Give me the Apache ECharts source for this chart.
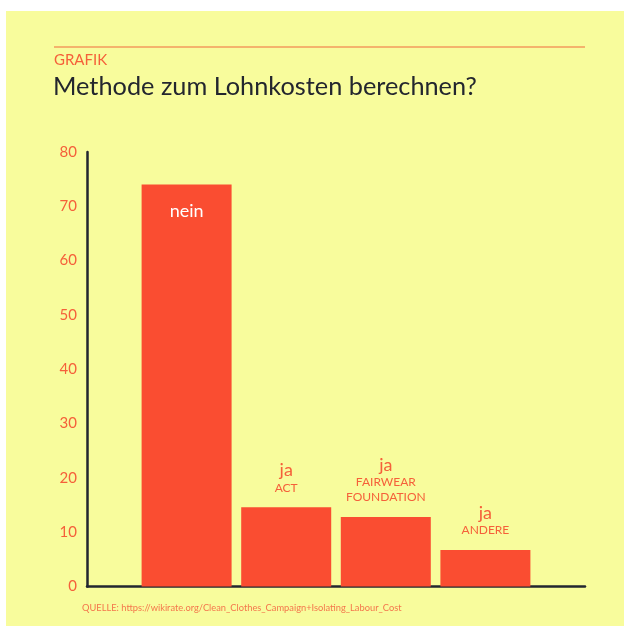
<!DOCTYPE html>
<html>
<head>
    <meta charset="utf-8" />
    <title>Methode zum Lohnkosten berechnen?</title>
    <script src="https://cdn.jsdelivr.net/npm/echarts@6/dist/echarts.min.js"></script>
    <style>
        body, html {
            margin: 0;
            padding: 0;
            background: #fff;
        }
        #paper {
            position: absolute;
            left: 6px;
            top: 11px;
            width: 618px;
            height: 615px;
            background: #f8fc9c;
        }
        #chart {
            position: absolute;
            left: 0;
            top: 0;
            width: 624px;
            height: 626px;
        }
    </style>
</head>
<body>
<div id="paper"></div>
<div id="chart"></div>

<script type="text/javascript">
    // Daten
    var positions = [1, 2, 3, 4];
    var values = [74, 14.6, 12.8, 6.7];
    var answers = ['nein', 'ja', 'ja', 'ja'];
    var methods = ['', 'ACT', 'FAIRWEAR\nFOUNDATION', 'ANDERE'];
    var yTicks = [0, 10, 20, 30, 40, 50, 60, 70, 80];

    var red = '#fa4d31';
    var orange = '#f5603a';
    var font = 'Lato, "Open Sans", sans-serif';

    var chart = echarts.init(document.getElementById('chart'));

    var seriesData = positions.map(function (p, i) {
        var item = { value: [p, values[i]] };
        if (i === 0) {
            item.label = {
                show: true,
                position: 'insideTop',
                distance: 18,
                color: '#fff',
                fontSize: 18,
                fontFamily: font,
                formatter: answers[i]
            };
        } else {
            item.label = {
                show: true,
                position: 'top',
                distance: 12,
                align: 'center',
                formatter: '{a|' + answers[i] + '}\n' +
                    methods[i].split('\n').map(function (s) { return '{b|' + s + '}'; }).join('\n'),
                rich: {
                    a: { fontSize: 18, color: orange, fontFamily: font, lineHeight: 20 },
                    b: { fontSize: 12, color: orange, fontFamily: font, lineHeight: 15 }
                }
            };
        }
        return item;
    });

    var option = {
        animation: false,
        textStyle: { fontFamily: font },
        graphic: [
            {
                type: 'line',
                shape: { x1: 54, y1: 47, x2: 585, y2: 47 },
                style: { stroke: '#f06a3c', lineWidth: 1.2 }
            },
            {
                type: 'text',
                left: 54,
                top: 53,
                style: { text: 'GRAFIK', fill: orange, font: '15px ' + font }
            },
            {
                type: 'text',
                left: 53,
                top: 74,
                style: { text: 'Methode zum Lohnkosten berechnen?', fill: '#23262e', font: '25.3px ' + font }
            },
            {
                type: 'text',
                left: 82,
                top: 603,
                style: { text: 'QUELLE: https://wikirate.org/Clean_Clothes_Campaign+Isolating_Labour_Cost', fill: '#f4764c', font: '9.3px ' + font }
            }
        ],
        grid: {
            left: 87,
            right: 39,
            top: 152,
            bottom: 39.5
        },
        xAxis: {
            type: 'value',
            min: 0,
            max: 5,
            axisLine: { show: true, lineStyle: { color: '#22262f', width: 2.5 } },
            axisTick: { show: false },
            axisLabel: { show: false },
            splitLine: { show: false }
        },
        yAxis: {
            type: 'value',
            min: yTicks[0],
            max: yTicks[yTicks.length - 1],
            interval: 10,
            axisLine: { show: true, lineStyle: { color: '#22262f', width: 2.5 } },
            axisTick: { show: false },
            splitLine: { show: false },
            axisLabel: {
                color: orange,
                fontSize: 15,
                margin: 10,
                fontFamily: font
            }
        },
        series: [
            {
                type: 'bar',
                data: seriesData,
                barWidth: 90,
                itemStyle: { color: red }
            }
        ]
    };
    chart.setOption(option);
</script>
</body>
</html>
